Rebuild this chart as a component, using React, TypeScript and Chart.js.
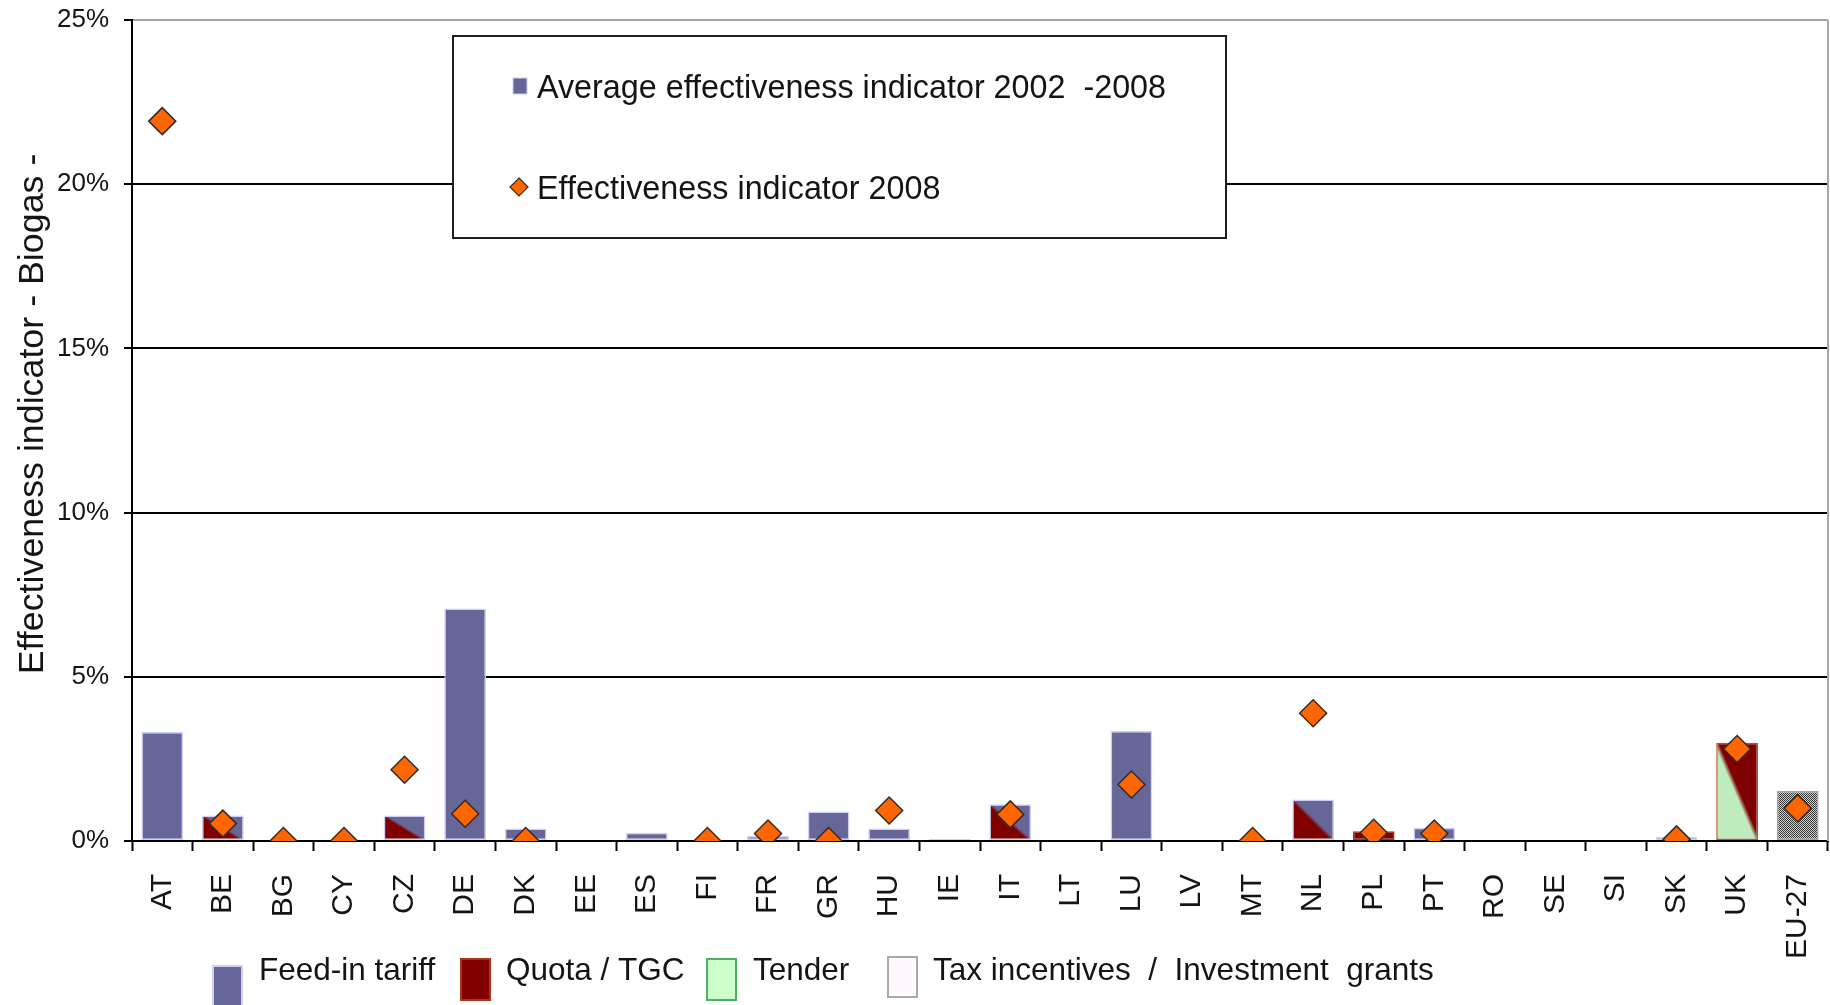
import React, { useEffect, useRef } from 'react';
import { Chart, registerables } from 'chart.js';

Chart.register(...registerables);

// ---- data ----
const countries = ['AT', 'BE', 'BG', 'CY', 'CZ', 'DE', 'DK', 'EE', 'ES', 'FI', 'FR', 'GR', 'HU', 'IE', 'IT', 'LT', 'LU', 'LV', 'MT', 'NL', 'PL', 'PT', 'RO', 'SE', 'SI', 'SK', 'UK', 'EU-27'];
const average2002to2008 = [3.32, 0.78, 0, 0, 0.78, 7.08, 0.38, 0, 0.25, 0, 0.15, 0.9, 0.38, 0.06, 1.12, 0.03, 3.35, 0.03, 0, 1.26, 0.3, 0.4, 0, 0.03, 0, 0.13, 2.99, 1.52];
const indicator2008: (number | null)[] = [21.92, 0.53, 0, 0, 2.17, 0.83, 0, null, null, 0, 0.23, 0, 0.93, null, 0.81, null, 1.72, null, 0, 3.89, 0.25, 0.23, null, null, null, 0.05, 2.8, 1.0];
// main support scheme per country ("A+B" = two schemes in parallel)
const supportScheme = ['FIT', 'QUOTA+FIT', 'NONE', 'NONE', 'QUOTA+FIT', 'FIT', 'FIT', 'NONE', 'FIT', 'NONE', 'FIT', 'FIT', 'FIT', 'FIT', 'QUOTA+FIT', 'FIT', 'FIT', 'FIT', 'NONE', 'QUOTA+FIT', 'QUOTA', 'FIT', 'NONE', 'QUOTA', 'NONE', 'FIT', 'TENDER+QUOTA', 'EU'];
const yTickValues = [0, 5, 10, 15, 20, 25];
const seriesNames = ['Average effectiveness indicator 2002  -2008', 'Effectiveness indicator 2008'];
const schemeNames = ['Feed-in tariff', 'Quota / TGC', 'Tender', 'Tax incentives  /  Investment  grants'];
const axisTitle = 'Effectiveness indicator - Biogas -';

// ---- styles ----
const FONT = '"Liberation Sans", Arial, sans-serif';
const TEXT = '#141414';
const FIT_FILL = '#666699';
const FIT_EDGE = '#cfcff7';
const QUOTA_FILL = '#800000';
const QUOTA_EDGE = '#a8361a';
const TENDER_FILL = '#bfecbf';
const TENDER_EDGE = '#4fae63';
const TAX_FILL = '#fff8ff';
const TAX_EDGE = '#a9a9a9';
const DIAMOND_FILL = '#ff6600';
const DIAMOND_EDGE = '#3a2a1e';
const BAR_SHARE = 0.69;

const schemeColor: Record<string, string> = { FIT: FIT_FILL, QUOTA: QUOTA_FILL, TENDER: TENDER_FILL };

let dither: CanvasPattern | null = null;
function ditherPattern(ctx: CanvasRenderingContext2D) {
  if (dither) return dither;
  const c = document.createElement('canvas');
  c.width = 2;
  c.height = 2;
  const g = c.getContext('2d')!;
  g.fillStyle = '#d4d4d4';
  g.fillRect(0, 0, 2, 2);
  g.fillStyle = '#333333';
  g.fillRect(0, 0, 1, 1);
  g.fillRect(1, 1, 1, 1);
  dither = ctx.createPattern(c, 'repeat');
  return dither;
}

// two colours split along the bar's top-left -> bottom-right diagonal
function splitFill(ctx: CanvasRenderingContext2D, x0: number, y0: number, x1: number, y1: number, lower: string, upper: string) {
  const w = x1 - x0;
  const h = y1 - y0;
  const k = (w * h) / (w * w + h * h || 1);
  const g = ctx.createLinearGradient(x0 - h * k, y0 + w * k, x0 + h * k, y0 - w * k);
  g.addColorStop(0, lower);
  g.addColorStop(0.47, lower);
  g.addColorStop(0.53, upper);
  g.addColorStop(1, upper);
  return g;
}

function barFill(c: any) {
  const i = c.dataIndex;
  const scheme = supportScheme[i];
  if (scheme === undefined || scheme === 'NONE') return 'rgba(0,0,0,0)';
  if (scheme === 'EU') return ditherPattern(c.chart.ctx) || '#8c8c8c';
  const parts = scheme.split('+');
  if (parts.length === 1) return schemeColor[parts[0]];
  const chart = c.chart;
  const xs = chart.scales.x;
  const ys = chart.scales.y;
  if (!chart.chartArea || !xs || !ys) return schemeColor[parts[1]];
  const cx = xs.getPixelForValue(i);
  const half = (xs.width / countries.length) * BAR_SHARE / 2;
  const top = ys.getPixelForValue(average2002to2008[i]);
  const bottom = ys.getPixelForValue(0);
  return splitFill(chart.ctx, cx - half, top, cx + half, bottom, schemeColor[parts[0]], schemeColor[parts[1]]);
}

function barEdge(c: any) {
  const scheme = supportScheme[c.dataIndex];
  if (scheme === 'EU') return '#a3a3a3';
  if (scheme === 'QUOTA') return QUOTA_EDGE;
  if (scheme === 'TENDER+QUOTA') return '#c0501e';
  if (scheme === 'NONE') return 'rgba(0,0,0,0)';
  return FIT_EDGE;
}

const decorations = {
  id: 'decorations',
  afterDraw(chart: any) {
    const ctx: CanvasRenderingContext2D = chart.ctx;
    const area = chart.chartArea;
    ctx.save();

    // light frame on the right side of the plot
    ctx.strokeStyle = '#a8a8a8';
    ctx.lineWidth = 2;
    ctx.beginPath();
    ctx.moveTo(area.right, area.top);
    ctx.lineTo(area.right, area.bottom);
    ctx.stroke();

    // vertical axis title
    ctx.save();
    ctx.translate(43, 414);
    ctx.rotate(-Math.PI / 2);
    ctx.fillStyle = TEXT;
    ctx.font = `35.8px ${FONT}`;
    ctx.textAlign = 'center';
    ctx.textBaseline = 'alphabetic';
    ctx.fillText(axisTitle, 0, 0);
    ctx.restore();

    // series legend box
    const bx = 453, by = 36, bw = 773, bh = 202;
    ctx.fillStyle = '#ffffff';
    ctx.fillRect(bx, by, bw, bh);
    ctx.strokeStyle = '#1e1e1e';
    ctx.lineWidth = 2;
    ctx.strokeRect(bx, by, bw, bh);

    ctx.font = `32.3px ${FONT}`;
    ctx.textAlign = 'left';
    ctx.textBaseline = 'alphabetic';
    ctx.fillStyle = TEXT;
    ctx.fillText(seriesNames[0], 537, 98);
    ctx.fillText(seriesNames[1], 537, 199);

    ctx.fillStyle = FIT_FILL;
    ctx.fillRect(513, 78, 14, 16);
    ctx.strokeStyle = FIT_EDGE;
    ctx.lineWidth = 1;
    ctx.strokeRect(513, 78, 14, 16);

    ctx.beginPath();
    ctx.moveTo(519, 178);
    ctx.lineTo(528, 187);
    ctx.lineTo(519, 196);
    ctx.lineTo(510, 187);
    ctx.closePath();
    ctx.fillStyle = DIAMOND_FILL;
    ctx.fill();
    ctx.strokeStyle = DIAMOND_EDGE;
    ctx.lineWidth = 1.2;
    ctx.stroke();

    // support scheme legend below the axis
    const swatches = [
      { x: 213, y: 966, h: 40, fill: FIT_FILL, edge: FIT_EDGE, tx: 259 },
      { x: 461, y: 959, h: 41, fill: QUOTA_FILL, edge: QUOTA_EDGE, tx: 506 },
      { x: 707, y: 959, h: 41, fill: '#ccffcc', edge: TENDER_EDGE, tx: 753 },
      { x: 888, y: 957, h: 40, fill: TAX_FILL, edge: TAX_EDGE, tx: 933 },
    ];
    ctx.font = `31.5px ${FONT}`;
    swatches.forEach((s, k) => {
      ctx.fillStyle = s.fill;
      ctx.fillRect(s.x, s.y, 29, s.h);
      ctx.strokeStyle = s.edge;
      ctx.lineWidth = 2;
      ctx.strokeRect(s.x, s.y, 29, s.h);
      ctx.fillStyle = TEXT;
      ctx.fillText(schemeNames[k], s.tx, 980);
    });

    ctx.restore();
  },
};

export default function App() {
  const ref = useRef<HTMLCanvasElement>(null);

  useEffect(() => {
    const canvas = ref.current;
    if (!canvas) return;
    const chart = new Chart(canvas, {
      type: 'bar',
      data: {
        labels: countries,
        datasets: [
          {
            type: 'line',
            label: seriesNames[1],
            data: indicator2008,
            showLine: false,
            pointStyle: 'rectRot',
            pointRadius: 13.5,
            pointHoverRadius: 13.5,
            pointBackgroundColor: DIAMOND_FILL,
            pointBorderColor: DIAMOND_EDGE,
            pointBorderWidth: 1.5,
            backgroundColor: DIAMOND_FILL,
            borderColor: DIAMOND_EDGE,
          } as any,
          {
            type: 'bar',
            label: seriesNames[0],
            data: average2002to2008,
            backgroundColor: barFill as any,
            borderColor: barEdge as any,
            borderWidth: 1.5,
            borderSkipped: false,
            categoryPercentage: 1,
            barPercentage: BAR_SHARE,
          },
        ],
      },
      options: {
        responsive: false,
        animation: false,
        devicePixelRatio: 1,
        layout: { autoPadding: false, padding: { top: 20, right: 2, left: 0, bottom: 0 } },
        plugins: {
          legend: { display: false },
          tooltip: { enabled: false },
          title: { display: false },
        },
        events: [],
        scales: {
          x: {
            offset: true,
            grid: {
              offset: true,
              drawOnChartArea: false,
              drawTicks: true,
              tickLength: 10,
              tickColor: '#000',
              tickWidth: 2,
            },
            border: { display: true, color: '#000', width: 2 },
            ticks: {
              autoSkip: false,
              minRotation: 90,
              maxRotation: 90,
              padding: 23,
              color: TEXT,
              font: { family: FONT, size: 30 },
            },
            afterFit(scale: any) {
              scale.height = 164;
              scale.paddingLeft = 0;
              scale.paddingRight = 0;
            },
          },
          y: {
            min: 0,
            max: 25,
            afterBuildTicks(scale: any) {
              scale.ticks = yTickValues.map((v) => ({ value: v }));
            },
            grid: {
              color: (c: any) => (c.tick && c.tick.value === 25 ? '#a3a3a3' : '#000'),
              lineWidth: 2,
              tickLength: 8,
              tickColor: '#000',
              tickWidth: 2,
            },
            border: { display: true, color: '#000', width: 2 },
            ticks: {
              callback: (v: any) => `${v}%`,
              padding: 15,
              color: TEXT,
              font: { family: FONT, size: 26 },
            },
            afterFit(scale: any) {
              scale.width = 132;
              scale.paddingTop = 0;
              scale.paddingBottom = 0;
            },
          },
        },
      },
      plugins: [decorations],
    });
    return () => chart.destroy();
  }, []);

  return (
    <div style={{ position: 'fixed', left: 0, top: 0, width: 1830, height: 1005, background: '#ffffff' }}>
      <canvas ref={ref} width={1830} height={1005} style={{ display: 'block', width: 1830, height: 1005 }} />
    </div>
  );
}
